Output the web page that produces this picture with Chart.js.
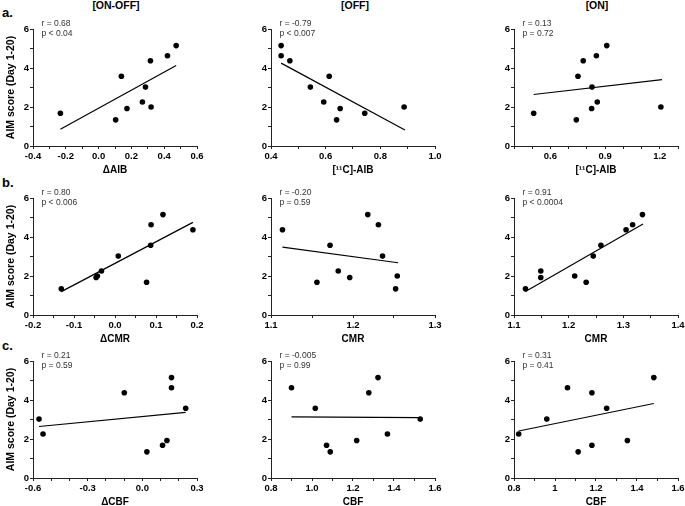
<!DOCTYPE html>
<html>
<head>
<meta charset="utf-8">
<script src="https://cdn.jsdelivr.net/npm/chart.js@4.4.1/dist/chart.umd.min.js"></script>
<style>
  body { margin: 0; width: 685px; height: 506px; overflow: hidden; background: #fff; position: relative;
         font-family: "Liberation Sans", Arial, sans-serif; }
  .panel { position: absolute; }
  .coltitle { position: absolute; top: 0; font-size: 10.5px; line-height: 10.5px; font-weight: bold; transform: translateX(-50%); white-space: nowrap; }
  .rowlabel { position: absolute; left: 2px; font-size: 13px; line-height: 13px; font-weight: bold; }
</style>
</head>
<body>
<div class="coltitle" style="left:116px">[ON-OFF]</div>
<div class="coltitle" style="left:355px">[OFF]</div>
<div class="coltitle" style="left:597px">[ON]</div>
<div class="rowlabel" style="top:6px">a.</div>
<div class="rowlabel" style="top:176px">b.</div>
<div class="rowlabel" style="top:339px">c.</div>

<script>
// AIM score (Day 1-20), one value per animal
const aimAll = [1.34, 1.68, 1.92, 2.0, 2.26, 3.02, 3.58, 4.37, 4.63, 5.15];
const aimCbf = [1.34, 1.68, 1.92, 2.26, 3.02, 3.58, 4.37, 4.63, 5.15];

// x values, same animal order as the AIM arrays
const aibDelta = [0.104, -0.233, 0.173, 0.320, 0.267, 0.286, 0.139, 0.316, 0.420, 0.473];
const aibOff   = [0.640, 0.743, 0.653, 0.887, 0.593, 0.544, 0.613, 0.469, 0.437, 0.437];
const aibOn    = [0.742, 0.508, 0.826, 1.206, 0.857, 0.828, 0.751, 0.780, 0.852, 0.909];
const cmrDelta = [-0.131, 0.077, -0.046, -0.043, -0.033, 0.008, 0.087, 0.190, 0.088, 0.117];
const cmrOff   = [1.252, 1.156, 1.196, 1.254, 1.182, 1.236, 1.172, 1.114, 1.231, 1.218];
const cmrOn    = [1.121, 1.232, 1.149, 1.211, 1.149, 1.245, 1.259, 1.305, 1.317, 1.335];
const cbfDelta = [0.025, 0.111, 0.135, -0.545, -0.567, 0.238, -0.099, 0.160, 0.160];
const cbfOff   = [1.089, 1.071, 1.218, 1.368, 1.528, 1.016, 1.277, 0.900, 1.322];
const cbfOn    = [1.113, 1.180, 1.353, 0.823, 0.960, 1.252, 1.180, 1.061, 1.482];

// regression lines: [x1, y1, x2, y2]
const fitAibDelta = [-0.233, 0.86, 0.473, 4.13];
const fitAibOff   = [0.437, 4.25, 0.890, 0.82];
const fitAibOn    = [0.508, 2.64, 1.212, 3.40];
const fitCmrDelta = [-0.131, 1.20, 0.190, 4.75];
const fitCmrOff   = [1.114, 3.48, 1.255, 2.68];
const fitCmrOn    = [1.121, 1.20, 1.336, 4.67];
const fitCbfDelta = [-0.567, 2.64, 0.238, 3.37];
const fitCbfOff   = [0.900, 3.13, 1.528, 3.10];
const fitCbfOn    = [0.823, 2.41, 1.482, 3.82];

const xTitles = ['\u0394AIB', '[\u00B9\u00B9C]-AIB', '[\u00B9\u00B9C]-AIB',
                 '\u0394CMR', 'CMR', 'CMR', '\u0394CBF', 'CBF', 'CBF'];
const xMins  = [-0.4, 0.4, 0.4, -0.2, 1.1, 1.1, -0.6, 0.8, 0.8];
const xMaxs  = [0.6, 1.0, 1.3, 0.2, 1.3, 1.4, 0.3, 1.6, 1.6];
const xMajor = [0.2, 0.2, 0.3, 0.1, 0.1, 0.1, 0.3, 0.2, 0.2];
const xMinor = [0.1, 0.1, 0.1, 0.05, 0.05, 0.05, 0.1, 0.1, 0.1];
const rText = ['r = 0.68', 'r = -0.79', 'r = 0.13', 'r = 0.80', 'r = -0.20', 'r = 0.91',
               'r = 0.21', 'r = -0.005', 'r = 0.31'];
const pText = ['p < 0.04', 'p < 0.007', 'p = 0.72', 'p < 0.006', 'p = 0.59', 'p < 0.0004',
               'p = 0.59', 'p = 0.99', 'p = 0.41'];
const yTitle = 'AIM score (Day 1-20)';

const xSets = [aibDelta, aibOff, aibOn, cmrDelta, cmrOff, cmrOn, cbfDelta, cbfOff, cbfOn];
const ySets = [aimAll, aimAll, aimAll, aimAll, aimAll, aimAll, aimCbf, aimCbf, aimCbf];
const fits  = [fitAibDelta, fitAibOff, fitAibOn, fitCmrDelta, fitCmrOff, fitCmrOn, fitCbfDelta, fitCbfOff, fitCbfOn];

// layout of plot areas on the page
const colLeft = [33, 271, 514];
const rowTop = [29, 198, 361];
const plotW = 164, plotH = 117;
const yAxisW = 33, xAxisH = 32, padTop = 14, padRight = 10;

const statsText = {
    id: 'statsText',
    afterDraw(chart, args, opts) {
        const { ctx, chartArea } = chart;
        ctx.save();
        ctx.font = '8.5px "Liberation Sans", Arial, sans-serif';
        ctx.fillStyle = '#333';
        ctx.textBaseline = 'middle';
        ctx.fillText(opts.r, chartArea.left + 8.5, chartArea.top - 5);
        ctx.fillText(opts.p, chartArea.left + 8.5, chartArea.top + 5);
        ctx.restore();
    }
};

const near = (a, b) => Math.abs(a - b) < 1e-6;

for (let i = 0; i < 9; i++) {
    const col = i % 3, row = Math.floor(i / 3);
    const box = document.createElement('div');
    box.className = 'panel';
    const w = yAxisW + plotW + padRight, h = padTop + plotH + xAxisH;
    box.style.left = (colLeft[col] - yAxisW) + 'px';
    box.style.top = (rowTop[row] - padTop) + 'px';
    box.style.width = w + 'px';
    box.style.height = h + 'px';
    const canvas = document.createElement('canvas');
    canvas.width = w;
    canvas.height = h;
    canvas.style.width = w + 'px';
    canvas.style.height = h + 'px';
    box.appendChild(canvas);
    document.body.appendChild(box);

    const pts = xSets[i].map((x, k) => ({ x, y: ySets[i][k] }));
    const f = fits[i];
    const major = xMajor[i];

    new Chart(canvas, {
        type: 'scatter',
        data: {
            datasets: [
                {
                    data: pts,
                    backgroundColor: '#000',
                    borderWidth: 0,
                    pointRadius: 2.8
                },
                {
                    type: 'line',
                    data: [{ x: f[0], y: f[1] }, { x: f[2], y: f[3] }],
                    borderColor: '#000',
                    borderWidth: 1.2,
                    pointRadius: 0,
                    fill: false
                }
            ]
        },
        options: {
            responsive: false,
            animation: false,
            layout: { padding: { top: padTop, right: padRight, left: 0, bottom: 0 } },
            plugins: {
                legend: { display: false },
                tooltip: { enabled: false },
                statsText: { r: rText[i], p: pText[i] }
            },
            scales: {
                x: {
                    type: 'linear',
                    min: xMins[i],
                    max: xMaxs[i],
                    afterFit: s => { s.height = xAxisH; },
                    ticks: {
                        stepSize: xMinor[i],
                        autoSkip: false,
                        maxRotation: 0,
                        maxTicksLimit: 100,
                        padding: 2,
                        color: '#000',
                        font: { size: 9.5, weight: 'bold' },
                        callback: v => {
                            const q = v / major;
                            if (!near(q, Math.round(q))) return '';
                            return i === 8 ? String(parseFloat(v.toFixed(1))) : v.toFixed(1);
                        }
                    },
                    grid: { drawOnChartArea: false, drawTicks: true, tickLength: 3, tickColor: '#222' },
                    border: { display: true, color: '#222', width: 1 },
                    title: {
                        display: true,
                        text: xTitles[i],
                        color: '#000',
                        font: { size: 10, weight: 'bold' },
                        padding: { top: 0, bottom: 2 }
                    }
                },
                y: {
                    min: 0,
                    max: 6,
                    afterFit: s => { s.width = yAxisW; },
                    ticks: {
                        stepSize: 1,
                        padding: 1,
                        color: '#000',
                        font: { size: 9.5, weight: 'bold' },
                        callback: v => (v % 2 === 0 ? v : '')
                    },
                    grid: { drawOnChartArea: false, drawTicks: true, tickLength: 3, tickColor: '#222' },
                    border: { display: true, color: '#222', width: 1 },
                    title: {
                        display: col === 0,
                        text: yTitle,
                        color: '#000',
                        font: { size: 10.5, weight: 'bold' },
                        padding: { top: 5, bottom: 0 }
                    }
                }
            }
        },
        plugins: [statsText]
    });
}
</script>
</body>
</html>
